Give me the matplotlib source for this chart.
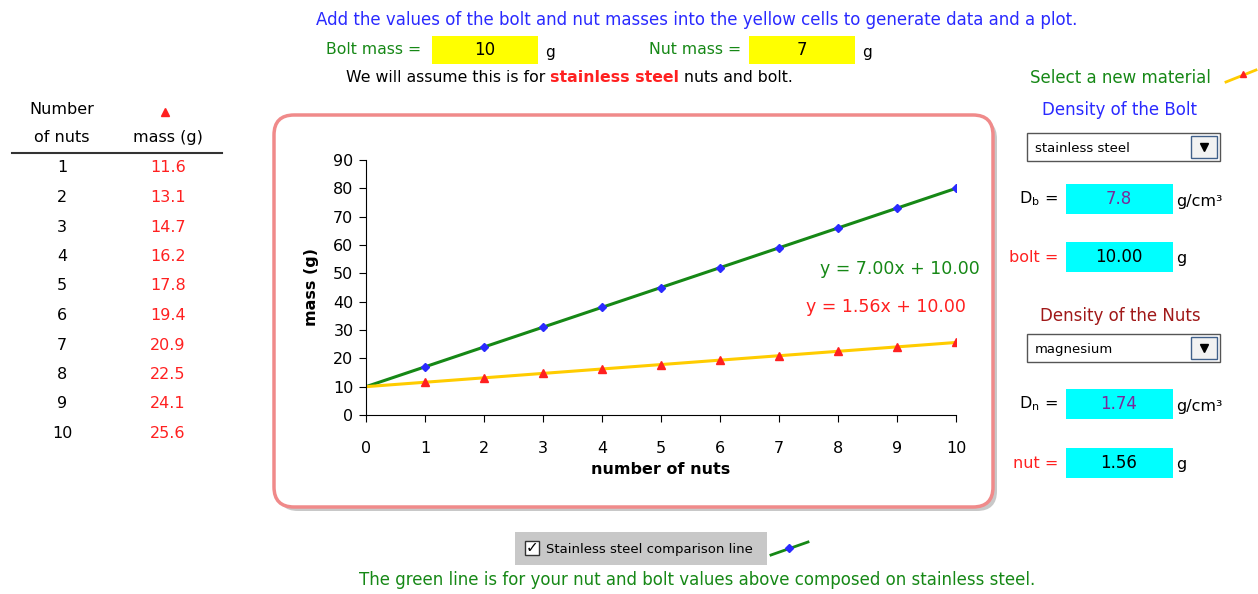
import numpy as np
import matplotlib.pyplot as plt
from matplotlib.patches import FancyBboxPatch, Rectangle
from matplotlib.lines import Line2D

# data read from the sheet
nuts = [1, 2, 3, 4, 5, 6, 7, 8, 9, 10]
mass = [11.6, 13.1, 14.7, 16.2, 17.8, 19.4, 20.9, 22.5, 24.1, 25.6]
steel_mass = [17, 24, 31, 38, 45, 52, 59, 66, 73, 80]
trend_x = [0, 10]
trend_mass = [10.0, 25.6]
trend_steel = [10.0, 80.0]
bolt_mass = "10"
nut_mass = "7"
bolt_density = "7.8"
nut_density = "1.74"
bolt_g = "10.00"
nut_g = "1.56"

W, H = 1258, 594
fig = plt.figure(figsize=(W / 100, H / 100), dpi=100)
plt.rcParams['font.family'] = ['DejaVu Sans']

GREEN = '#168816'
BLUE = '#2a2aff'
RED = '#ff2020'
CYAN = '#00ffff'
YELLOW = '#ffff00'


def T(x, y, s, **kw):
    kw.setdefault('ha', 'center')
    kw.setdefault('va', 'center')
    kw.setdefault('fontsize', 11)
    return fig.text(x / W, 1 - y / H, s, **kw)


def box(x0, y0, x1, y1, fc, ec='none', lw=1, z=0):
    r = Rectangle((x0 / W, 1 - y1 / H), (x1 - x0) / W, (y1 - y0) / H,
                  transform=fig.transFigure, fc=fc, ec=ec, lw=lw, zorder=z)
    fig.add_artist(r)


# chart frame (rounded, with shadow)
def rbox(x0, y0, x1, y1, **kw):
    p = FancyBboxPatch((x0 / 100, (H - y1) / 100), (x1 - x0) / 100, (y1 - y0) / 100,
                       boxstyle="round,pad=0,rounding_size=0.2",
                       transform=fig.dpi_scale_trans, **kw)
    fig.add_artist(p)

rbox(278, 119, 997, 511, fc='#c8c8c8', ec='none', zorder=0)
rbox(274, 115, 993, 507, fc='white', ec='#f08a8a', lw=2.5, zorder=0.5)

# the plot itself
ax = fig.add_axes([366 / W, 1 - 415 / H, 590 / W, 255 / H])
ax.set_zorder(2)
ax.patch.set_alpha(0)
ax.plot(trend_x, trend_steel, color=GREEN, lw=2.2, zorder=2)
ax.plot(nuts, steel_mass, ls='none', marker='D', ms=4.5, color=BLUE, zorder=3)
ax.plot(trend_x, trend_mass, color='#ffcc00', lw=2.2, zorder=2)
ax.plot(nuts, mass, ls='none', marker='^', ms=6, color=RED, zorder=3)
ax.set_xlim(0, 10)
ax.set_ylim(0, 90)
ax.set_xticks(range(0, 11))
ax.set_yticks(range(0, 91, 10))
ax.spines['top'].set_visible(False)
ax.spines['right'].set_visible(False)
ax.tick_params(axis='x', direction='out', length=5, pad=14, labelsize=11.5)
ax.tick_params(axis='y', direction='out', length=5, pad=4, labelsize=11.5)
ax.set_xlabel('number of nuts', fontsize=11.5, fontweight='bold', labelpad=4)
ax.set_ylabel('mass (g)', fontsize=11.5, fontweight='bold', labelpad=10)
ax.text(1.04, 0.571, 'y = 7.00x + 10.00', transform=ax.transAxes, ha='right', va='center',
        color=GREEN, fontsize=12.5)
ax.text(1.017, 0.425, 'y = 1.56x + 10.00', transform=ax.transAxes, ha='right', va='center',
        color=RED, fontsize=12.5)

# header
T(697, 20, 'Add the values of the bolt and nut masses into the yellow cells to generate data and a plot.',
  color=BLUE, fontsize=12)
T(374, 50, 'Bolt mass =', color=GREEN, fontsize=11.3)
box(432, 36, 538, 64, YELLOW)
T(485, 50, bolt_mass, fontsize=12)
T(545, 53, 'g', ha='left')
T(695, 50, 'Nut mass =', color=GREEN, fontsize=11.3)
box(749, 36, 855, 64, YELLOW)
T(802, 50, nut_mass, fontsize=12)
T(862, 53, 'g', ha='left')

# sentence with bold red part
fig.canvas.draw()
rend = fig.canvas.get_renderer()
parts = [('We will assume this is for ', 'black', 'normal'),
         ('stainless steel', RED, 'bold'),
         (' nuts and bolt.', 'black', 'normal')]
x = 346
for s, c, w in parts:
    t = T(x, 78, s, ha='left', color=c, fontweight=w, fontsize=11.3)
    x += t.get_window_extent(rend).width

# left table
T(62, 109, 'Number', fontsize=11.5)
T(62, 138, 'of nuts', fontsize=11.5)
T(168, 138, 'mass (g)', fontsize=11.5)
fig.add_artist(Line2D([165 / W], [1 - 112 / H], marker='^', ms=6, color=RED, ls='none',
                      transform=fig.transFigure))
fig.add_artist(Line2D([12 / W, 222 / W], [1 - 153 / H] * 2, color='#333333', lw=1.5,
                      transform=fig.transFigure))
for i, (n, m) in enumerate(zip(nuts, mass)):
    y = 168 + 29.5 * i
    T(62, y, str(n), fontsize=11.5)
    T(168, y, f'{m:.1f}', color=RED, fontsize=11.5)

# right panel
T(1120, 78, 'Select a new material', color=GREEN, fontsize=12)
fig.add_artist(Line2D([1226 / W, 1256 / W], [1 - 82 / H, 1 - 70 / H], color='#ffcc00', lw=2,
                      transform=fig.transFigure))
fig.add_artist(Line2D([1243 / W], [1 - 74 / H], marker='^', ms=5, color=RED, ls='none',
                      transform=fig.transFigure))
T(1120, 110, 'Density of the Bolt', color=BLUE, fontsize=12)
T(1120, 316, 'Density of the Nuts', color='#a01818', fontsize=12)


def dropdown(y0, label):
    box(1027, y0, 1220, y0 + 28, 'white', ec='#555555', lw=1)
    box(1191, y0 + 3, 1217, y0 + 25, '#f2f2f2', ec='#40608a', lw=1)
    fig.add_artist(Line2D([1204 / W], [1 - (y0 + 14) / H], marker='v', ms=6, color='black',
                          ls='none', transform=fig.transFigure))
    T(1035, y0 + 15, label, ha='left', fontsize=9.5)

dropdown(133, 'stainless steel')
dropdown(334, 'magnesium')

rows = [(199, r'D$_\mathregular{b}$ =', 'black', bolt_density, '#7a2a9a', 'g/cm³'),
        (257, 'bolt =', RED, bolt_g, 'black', 'g'),
        (404, r'D$_\mathregular{n}$ =', 'black', nut_density, '#7a2a9a', 'g/cm³'),
        (463, 'nut =', RED, nut_g, 'black', 'g')]
for y, lab, lc, val, vc, unit in rows:
    T(1058, y, lab, ha='right', color=lc, fontsize=11.5)
    box(1066, y - 15, 1173, y + 15, CYAN)
    T(1119, y, val, color=vc, fontsize=12)
    T(1176, y + 2, unit, ha='left', fontsize=11.5)

# bottom checkbox + note
box(515, 532, 767, 565, '#c8c8c8')
box(525, 541, 539, 555, 'white', ec='#333333', lw=1)
T(532, 548, '✓', fontsize=11, fontweight='bold')
T(546, 549, 'Stainless steel comparison line', ha='left', fontsize=9.5)
fig.add_artist(Line2D([771 / W, 808 / W], [1 - 555 / H, 1 - 542 / H], color=GREEN, lw=2,
                      transform=fig.transFigure))
fig.add_artist(Line2D([789 / W], [1 - 548 / H], marker='D', ms=4, color=BLUE, ls='none',
                      transform=fig.transFigure))
T(697, 580, 'The green line is for your nut and bolt values above composed on stainless steel.',
  color=GREEN, fontsize=12)

fig.savefig('out.png', dpi=100)
